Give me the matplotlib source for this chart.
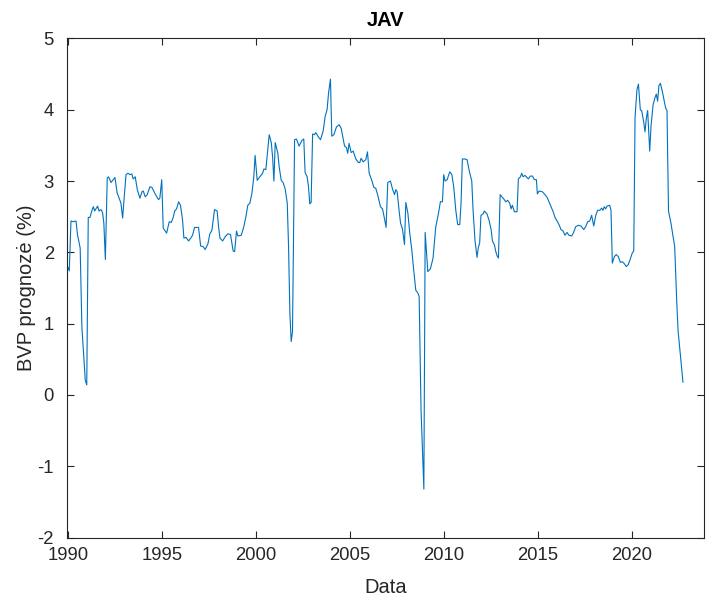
import matplotlib
matplotlib.use("Agg")
import matplotlib.pyplot as plt

# values (fractional year, forecast %)
YEARS = [
    1990.00, 1990.07, 1990.16, 1990.27, 1990.43, 1990.50, 1990.65, 1990.74, 1990.92, 1991.00,
    1991.08, 1991.17, 1991.28, 1991.35, 1991.42, 1991.58, 1991.65, 1991.76, 1991.84, 1991.91,
    1991.99, 1992.09, 1992.16, 1992.29, 1992.38, 1992.50, 1992.62, 1992.71, 1992.82, 1992.91,
    1992.98, 1993.09, 1993.19, 1993.30, 1993.40, 1993.47, 1993.58, 1993.69, 1993.83, 1993.94,
    1994.01, 1994.11, 1994.22, 1994.36, 1994.47, 1994.64, 1994.82, 1994.89, 1994.99, 1995.07,
    1995.25, 1995.39, 1995.50, 1995.60, 1995.68, 1995.78, 1995.89, 1995.99, 1996.10, 1996.17,
    1996.28, 1996.42, 1996.56, 1996.63, 1996.74, 1996.95, 1997.06, 1997.20, 1997.30, 1997.45,
    1997.55, 1997.66, 1997.80, 1997.94, 1998.01, 1998.09, 1998.23, 1998.37, 1998.51, 1998.65,
    1998.79, 1998.87, 1998.97, 1999.04, 1999.22, 1999.36, 1999.47, 1999.57, 1999.68, 1999.79,
    1999.89, 1999.96, 2000.07, 2000.21, 2000.36, 2000.43, 2000.53, 2000.71, 2000.82, 2000.89,
    2000.96, 2001.03, 2001.17, 2001.24, 2001.35, 2001.45, 2001.56, 2001.67, 2001.74, 2001.81,
    2001.88, 2001.95, 2002.06, 2002.16, 2002.30, 2002.45, 2002.55, 2002.62, 2002.73, 2002.80,
    2002.87, 2002.94, 2003.02, 2003.12, 2003.19, 2003.30, 2003.44, 2003.58, 2003.69, 2003.79,
    2003.87, 2003.97, 2004.04, 2004.15, 2004.29, 2004.43, 2004.54, 2004.64, 2004.72, 2004.82,
    2004.89, 2004.96, 2005.07, 2005.18, 2005.32, 2005.46, 2005.53, 2005.60, 2005.71, 2005.85,
    2005.94, 2006.03, 2006.17, 2006.28, 2006.38, 2006.49, 2006.63, 2006.74, 2006.84, 2006.93,
    2007.02, 2007.16, 2007.27, 2007.38, 2007.45, 2007.52, 2007.62, 2007.70, 2007.80, 2007.91,
    2007.98, 2008.09, 2008.19, 2008.30, 2008.40, 2008.51, 2008.62, 2008.69, 2008.79, 2008.94,
    2009.01, 2009.15, 2009.29, 2009.43, 2009.57, 2009.72, 2009.82, 2009.93, 2010.00, 2010.07,
    2010.18, 2010.32, 2010.43, 2010.53, 2010.64, 2010.74, 2010.85, 2010.92, 2010.99, 2011.13,
    2011.24, 2011.35, 2011.49, 2011.56, 2011.66, 2011.77, 2011.84, 2011.91, 2011.98, 2012.09,
    2012.16, 2012.30, 2012.41, 2012.52, 2012.59, 2012.70, 2012.77, 2012.84, 2012.91, 2013.00,
    2013.09, 2013.19, 2013.30, 2013.40, 2013.51, 2013.58, 2013.65, 2013.76, 2013.90, 2013.97,
    2014.08, 2014.15, 2014.22, 2014.32, 2014.43, 2014.50, 2014.61, 2014.72, 2014.82, 2014.93,
    2014.98, 2015.07, 2015.25, 2015.39, 2015.50, 2015.60, 2015.71, 2015.82, 2015.92, 2016.03,
    2016.13, 2016.24, 2016.35, 2016.45, 2016.56, 2016.66, 2016.81, 2016.91, 2017.02, 2017.16,
    2017.30, 2017.45, 2017.55, 2017.66, 2017.77, 2017.87, 2017.98, 2018.09, 2018.19, 2018.30,
    2018.40, 2018.47, 2018.54, 2018.62, 2018.69, 2018.83, 2018.90, 2018.97, 2019.08, 2019.18,
    2019.29, 2019.40, 2019.50, 2019.61, 2019.72, 2019.82, 2019.93, 2020.03, 2020.11, 2020.18,
    2020.28, 2020.36, 2020.46, 2020.53, 2020.64, 2020.71, 2020.78, 2020.85, 2020.96, 2021.03,
    2021.14, 2021.24, 2021.31, 2021.38, 2021.45, 2021.53, 2021.63, 2021.74, 2021.81, 2021.88,
    2021.96, 2022.09, 2022.20, 2022.29, 2022.40, 2022.47, 2022.73,
]
BVP = [
    1.79, 1.74, 2.44, 2.43, 2.44, 2.26, 2.06, 0.96, 0.21, 0.14,
    2.49, 2.49, 2.59, 2.64, 2.58, 2.65, 2.58, 2.60, 2.56, 2.41,
    1.90, 3.04, 3.06, 2.98, 3.01, 3.05, 2.83, 2.77, 2.69, 2.48,
    2.73, 3.09, 3.11, 3.09, 3.10, 3.03, 3.06, 2.88, 2.76, 2.85,
    2.86, 2.78, 2.81, 2.92, 2.91, 2.82, 2.74, 2.76, 3.02, 2.34,
    2.27, 2.43, 2.42, 2.49, 2.58, 2.61, 2.71, 2.66, 2.45, 2.20,
    2.21, 2.16, 2.21, 2.24, 2.35, 2.35, 2.09, 2.08, 2.04, 2.12,
    2.26, 2.31, 2.60, 2.58, 2.37, 2.20, 2.16, 2.22, 2.26, 2.25,
    2.02, 2.01, 2.30, 2.23, 2.24, 2.36, 2.50, 2.66, 2.69, 2.83,
    3.06, 3.36, 3.01, 3.06, 3.11, 3.17, 3.16, 3.65, 3.54, 3.34,
    3.00, 3.54, 3.39, 3.20, 3.01, 2.98, 2.89, 2.69, 2.08, 1.15,
    0.75, 0.89, 3.58, 3.59, 3.49, 3.57, 3.59, 3.12, 3.06, 2.92,
    2.68, 2.70, 3.66, 3.65, 3.68, 3.63, 3.58, 3.70, 3.91, 4.00,
    4.24, 4.43, 3.63, 3.65, 3.76, 3.79, 3.74, 3.60, 3.49, 3.47,
    3.39, 3.53, 3.40, 3.42, 3.31, 3.26, 3.26, 3.32, 3.27, 3.30,
    3.41, 3.11, 3.01, 2.91, 2.90, 2.80, 2.64, 2.61, 2.48, 2.35,
    2.98, 3.00, 2.89, 2.81, 2.88, 2.85, 2.59, 2.41, 2.33, 2.11,
    2.70, 2.55, 2.27, 2.03, 1.75, 1.47, 1.43, 1.38, -0.21, -1.32,
    2.28, 1.73, 1.77, 1.92, 2.35, 2.55, 2.71, 2.71, 3.09, 3.00,
    3.02, 3.13, 3.09, 2.92, 2.59, 2.39, 2.39, 2.69, 3.31, 3.31,
    3.30, 3.15, 3.00, 2.59, 2.17, 1.93, 2.07, 2.13, 2.52, 2.54,
    2.58, 2.54, 2.45, 2.32, 2.16, 2.10, 2.01, 1.95, 1.92, 2.81,
    2.78, 2.75, 2.71, 2.73, 2.69, 2.61, 2.66, 2.57, 2.57, 3.03,
    3.06, 3.11, 3.06, 3.08, 3.05, 3.03, 3.07, 3.07, 3.02, 3.02,
    2.82, 2.86, 2.85, 2.81, 2.77, 2.71, 2.64, 2.57, 2.49, 2.44,
    2.39, 2.32, 2.30, 2.24, 2.28, 2.24, 2.23, 2.28, 2.36, 2.38,
    2.37, 2.32, 2.36, 2.43, 2.44, 2.52, 2.37, 2.52, 2.59, 2.59,
    2.62, 2.59, 2.64, 2.61, 2.65, 2.66, 2.59, 1.85, 1.94, 1.97,
    1.94, 1.86, 1.87, 1.84, 1.80, 1.83, 1.91, 1.99, 2.02, 3.90,
    4.28, 4.36, 4.00, 3.99, 3.83, 3.69, 3.88, 3.99, 3.42, 3.77,
    4.07, 4.17, 4.22, 4.12, 4.34, 4.37, 4.26, 4.11, 4.02, 3.99,
    2.58, 2.41, 2.23, 2.08, 1.30, 0.90, 0.18,
]
XTICKS = [1990, 1995, 2000, 2005, 2010, 2015, 2020]
YTICKS = [-2, -1, 0, 1, 2, 3, 4, 5]

plt.rcParams["font.family"] = ["Liberation Sans", "DejaVu Sans"]

fig = plt.figure(figsize=(7.13, 6.03), dpi=100)
ax = fig.add_axes([0.094, 0.1085, 0.8934, 0.8277])
ax.plot(YEARS, BVP, color="#0072BD", linewidth=0.8)

ax.set_xlim(1989.95, 2023.85)
ax.set_ylim(-2, 5)
ax.set_xticks(XTICKS)
ax.set_yticks(YTICKS)
ax.set_xticklabels([str(t) for t in XTICKS])
ax.set_yticklabels([str(t) for t in YTICKS])

# matlab-ish box with inward ticks on all sides
for side in ax.spines.values():
    side.set_color("#262626")
    side.set_linewidth(0.8)
ax.tick_params(direction="in", length=5, width=0.8, color="#262626",
               labelcolor="#262626", labelsize=13.3, top=True, right=True)
ax.tick_params(axis="x", pad=7)
ax.tick_params(axis="y", pad=9.5)

ax.set_title("JAV", fontsize=14.5, fontweight="bold", color="black", pad=9)
ax.set_xlabel("Data", fontsize=14.5, color="#262626", labelpad=10)
ax.set_ylabel("BVP prognozė (%)", fontsize=14.5, color="#262626", labelpad=1)

fig.savefig("out.png", dpi=100)
